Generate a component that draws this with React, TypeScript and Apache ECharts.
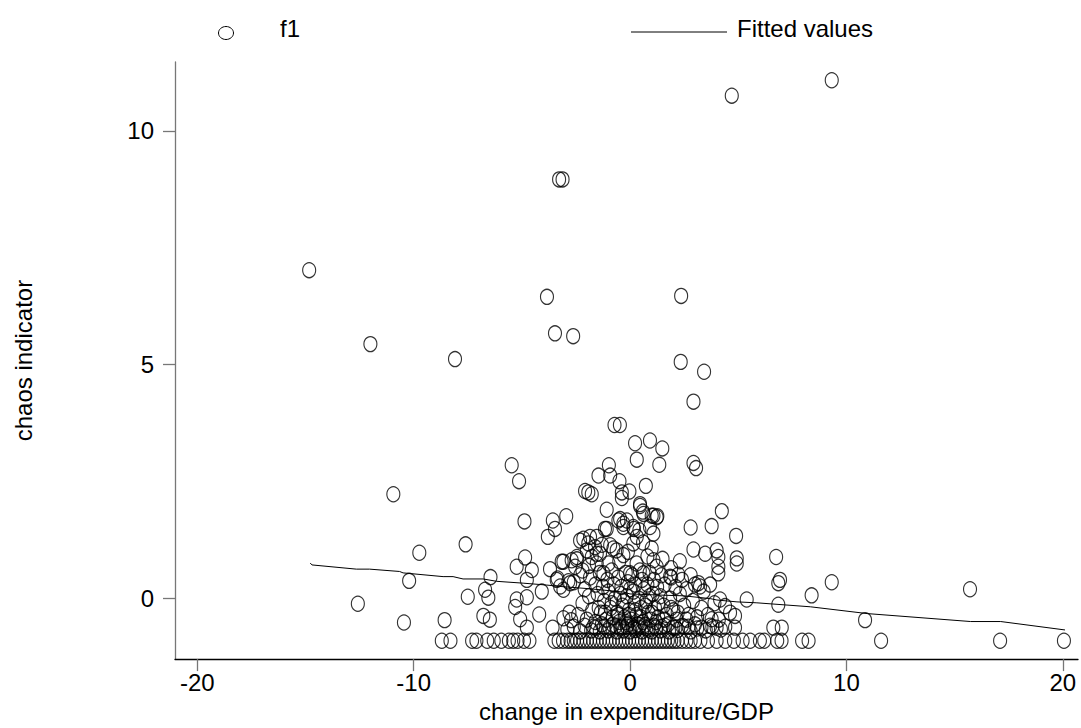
import React, { useEffect, useRef } from "react";
import * as echarts from "echarts";

const xTicks = [-20, -10, 0, 10, 20];
const yTicks = [0, 5, 10];

const scatterNonFloor: number[][] = [
  [9.32, 11.08], [4.7, 10.75], [-3.28, 8.96], [-3.12, 8.96], [-14.83, 7.02], [-3.84, 6.45], [2.36, 6.47],
  [-3.47, 5.67], [-2.63, 5.61], [-12.0, 5.44], [-8.09, 5.12], [2.34, 5.06], [3.42, 4.85], [2.93, 4.21],
  [-0.72, 3.71], [-0.47, 3.71], [0.23, 3.32], [0.92, 3.38], [1.49, 3.21], [0.31, 2.97], [1.35, 2.86],
  [2.93, 2.9], [3.05, 2.79], [-5.47, 2.85], [-5.13, 2.51], [-10.94, 2.23],
  [-0.98, 2.85], [-1.46, 2.63], [-0.92, 2.63], [-0.49, 2.51], [0.73, 2.41], [-2.08, 2.3], [-1.93, 2.27],
  [-1.77, 2.23], [-0.38, 2.27], [-0.03, 2.29], [-0.38, 2.15],
  [-1.08, 1.9], [0.46, 1.98], [0.59, 1.86], [1.26, 1.76], [-0.54, 1.67], [-0.31, 1.6], [0.18, 1.49],
  [0.43, 1.46], [-4.88, 1.65], [-3.57, 1.67], [-3.47, 1.49], [-3.8, 1.32], [-2.95, 1.76], [-7.6, 1.16],
  [-9.74, 0.98], [-2.16, 1.28], [-1.93, 1.18], [-1.54, 1.32], [-1.08, 1.49], [-0.92, 1.14], [-0.77, 1.07],
  [-0.62, 1.03], [-0.31, 0.93], [0.15, 1.18], [0.31, 1.32], [1.08, 1.39], [1.0, 1.07], [1.0, 1.77], [1.23, 1.74],
  [2.8, 1.52], [3.77, 1.55], [4.24, 1.87], [4.9, 1.34], [2.93, 1.05], [3.47, 0.96], [4.0, 1.03], [4.08, 0.89],
  [4.08, 0.68], [4.08, 0.54], [4.93, 0.86], [4.93, 0.75], [6.75, 0.89], [6.93, 0.4], [6.85, 0.33], [8.39, 0.07],
  [9.32, 0.35], [15.71, 0.2], [10.86, -0.46], [5.39, -0.02], [6.85, -0.13],
  [4.16, -0.02], [4.39, -0.16], [4.62, -0.3], [4.85, -0.37], [4.85, -0.62], [6.62, -0.62], [7.01, -0.62], [3.77, -0.44],
  [-4.85, 0.88], [-5.24, 0.68], [-4.54, 0.61], [-4.77, 0.4], [-6.45, 0.46], [-3.7, 0.63], [-3.35, 0.43],
  [-3.16, 0.79], [-2.46, 0.84], [-2.7, 0.82], [-1.77, 0.89], [-1.54, 0.96], [-1.23, 0.54], [0.0, 0.54],
  [0.62, 0.54], [1.08, 0.82], [1.23, 0.68], [1.85, 0.47], [2.23, 0.51], [3.16, 0.33], [3.23, 0.26],
  [-6.7, 0.19], [-6.55, 0.02], [-7.5, 0.04], [-6.78, -0.37], [-6.48, -0.45], [-8.57, -0.46], [-10.45, -0.51],
  [-12.58, -0.11], [-10.21, 0.38],
  [-5.24, -0.02], [-5.31, -0.18], [-4.77, 0.03], [-5.08, -0.44], [-4.77, -0.62], [-4.08, 0.15], [-4.2, -0.34],
  [-3.58, -0.62], [-3.23, 0.26], [-2.85, 0.37], [-3.08, -0.42], [-2.72, -0.46], [-2.8, -0.3],
  [-1.85, 1.32], [-2.31, 1.24], [-2.0, 1.03], [-1.62, 1.1], [-1.39, 0.96], [-1.54, 0.75], [-1.16, 1.49],
  [-0.46, 1.7], [-0.15, 1.67], [-0.31, 1.53], [0.15, 1.53], [0.46, 2.02], [0.62, 1.81], [1.08, 1.77], [0.92, 1.53],
  [-3.08, 0.79], [-2.54, 0.68], [-2.46, 0.89], [-3.39, 0.4], [-3.08, 0.19], [-2.77, 0.33],
  [-2.2, 0.6], [-1.9, 0.7], [-1.0, 0.75], [-0.5, 0.8], [0.3, 0.75], [0.8, 0.9], [1.5, 0.85], [1.9, 0.65],
  [2.3, 0.8], [-0.1, 1.0], [0.6, 1.2], [-1.3, 1.15],
  [-2.9, -0.66], [-2.6, -0.6], [-2.3, -0.7], [-2.1, -0.58], [-1.8, -0.68], [-1.6, -0.62], [-1.4, -0.7],
  [-1.2, -0.6], [-1.0, -0.68], [-0.8, -0.56], [-0.6, -0.7], [-0.45, -0.62], [-0.3, -0.68], [-0.15, -0.6],
  [0.0, -0.7], [0.1, -0.58], [0.25, -0.67], [0.4, -0.62], [0.55, -0.7], [0.7, -0.56], [0.85, -0.66],
  [1.0, -0.7], [1.2, -0.62], [1.4, -0.68], [1.6, -0.58], [1.8, -0.7], [2.0, -0.62], [2.2, -0.67],
  [2.5, -0.6], [2.8, -0.7], [3.1, -0.64], [3.5, -0.68], [3.8, -0.6], [4.2, -0.66],
  [-2.4, -0.35], [-2.2, -0.1], [-2.0, -0.45], [-1.9, 0.05], [-1.75, -0.25], [-1.6, -0.5], [-1.5, 0.1],
  [-1.35, -0.3], [-1.2, -0.05], [-1.1, -0.45], [-1.0, 0.15], [-0.9, -0.2], [-0.8, -0.4], [-0.7, 0.0],
  [-0.6, -0.3], [-0.5, -0.5], [-0.45, 0.1], [-0.35, -0.15], [-0.25, -0.4], [-0.15, 0.05], [-0.05, -0.25],
  [0.05, -0.45], [0.15, 0.15], [0.2, -0.1], [0.3, -0.35], [0.4, 0.0], [0.5, -0.2], [0.6, -0.5], [0.65, 0.2],
  [0.75, -0.05], [0.85, -0.3], [0.95, -0.45], [1.05, 0.1], [1.15, -0.2], [1.3, -0.4], [1.4, 0.05],
  [1.55, -0.15], [1.7, -0.35], [1.85, 0.0], [2.0, -0.25], [2.15, -0.45], [2.3, 0.1], [2.5, -0.15],
  [2.7, -0.35], [2.9, -0.05], [3.1, -0.4], [3.3, -0.2], [3.6, -0.35], [3.9, -0.1], [4.1, -0.45],
  [-2.6, 0.35], [-2.3, 0.5], [-2.1, 0.2], [-1.85, 0.45], [-1.6, 0.3], [-1.4, 0.55], [-1.25, 0.25],
  [-1.05, 0.4], [-0.85, 0.6], [-0.75, 0.3], [-0.55, 0.45], [-0.4, 0.25], [-0.2, 0.55], [-0.1, 0.35],
  [0.1, 0.5], [0.25, 0.3], [0.45, 0.6], [0.55, 0.4], [0.8, 0.3], [0.9, 0.55], [1.1, 0.4], [1.25, 0.25],
  [1.45, 0.5], [1.6, 0.3], [1.9, 0.45], [2.1, 0.25], [2.4, 0.4], [2.6, 0.2], [2.8, 0.5], [3.0, 0.3],
  [3.4, 0.15], [3.7, 0.3],
  [-1.7, -0.6], [-1.3, -0.55], [-0.95, -0.62], [-0.65, -0.58], [-0.35, -0.6], [-0.1, -0.55], [0.2, -0.62],
  [0.45, -0.57], [0.75, -0.63], [1.1, -0.58], [1.45, -0.6], [1.75, -0.55], [2.1, -0.62], [2.4, -0.58],
  [2.7, -0.6], [3.0, -0.55], [3.3, -0.62], [3.7, -0.58], [4.0, -0.62], [4.4, -0.6],
  [-1.45, -0.2], [-1.15, -0.3], [-0.85, -0.1], [-0.55, -0.35], [-0.3, -0.05], [-0.05, -0.35], [0.25, -0.25],
  [0.5, -0.4], [0.7, -0.15], [1.0, -0.3], [1.3, -0.1], [1.6, -0.45], [1.9, -0.2], [2.2, -0.3], [2.6, -0.45],
  [0.0, 0.2], [-0.2, -0.5], [0.35, -0.55], [0.9, 0.05], [1.2, -0.5],
];

const floorY = -0.9;
const floorX: number[] = [
  -8.7, -8.3, -7.3, -7.1, -6.6, -6.3, -5.95, -5.6, -5.4, -5.2, -4.9, -4.65,
  -3.5, -3.3, -3.1, -2.9, -2.75, -2.6, -2.45, -2.3, -2.15, -2.0, -1.85, -1.7, -1.55, -1.4, -1.25, -1.1,
  -0.95, -0.8, -0.65, -0.5, -0.35, -0.2, -0.05, 0.1, 0.25, 0.4, 0.55, 0.7, 0.85, 1.0, 1.15, 1.3, 1.45,
  1.6, 1.75, 1.9, 2.05, 2.2, 2.4, 2.6, 2.8, 3.0, 3.25, 3.6, 4.0, 4.4, 4.8, 5.2, 5.55, 6.0, 6.2,
  6.8, 7.0, 7.95, 8.25, 11.6, 17.1, 20.05,
];

const fittedX = [-14.78, -14.7, -12.65, -12.04, -10.65, -10.49, -8.64, -8.18, -7.72, -6.79, -6.17, -4.94,
  -3.86, -3.24, -1.85, -0.31, 0.0, 1.7, 2.47, 3.7, 4.01, 4.94, 5.86, 8.33, 10.96, 15.74, 17.13, 20.1];
const fittedY = [0.76, 0.72, 0.63, 0.63, 0.58, 0.55, 0.47, 0.47, 0.42, 0.42, 0.37, 0.33,
  0.29, 0.26, 0.21, 0.14, 0.1, 0.07, 0.06, 0.0, -0.03, -0.07, -0.09, -0.175, -0.32, -0.49, -0.49, -0.67];

const FONT = "'Liberation Sans', Arial, sans-serif";

export default function App() {
  const ref = useRef<HTMLDivElement>(null);
  useEffect(() => {
    if (!ref.current) return;
    const chart = echarts.init(ref.current, null, { renderer: "svg" });
    const scatterData = [
      ...scatterNonFloor,
      ...floorX.map((x) => [x, floorY]),
    ];
    const lineData = fittedX.map((x, i) => [x, fittedY[i]]);
    chart.setOption({
      animation: false,
      backgroundColor: "#fff",
      grid: { left: 175, top: 62, right: 3, bottom: 61, containLabel: false },
      xAxis: {
        type: "value",
        min: -21.03,
        max: 20.7,
        name: "change in expenditure/GDP",
        nameLocation: "middle",
        nameGap: 36,
        nameTextStyle: { fontFamily: FONT, fontSize: 24, color: "#000" },
        axisLine: { show: true, onZero: false, lineStyle: { color: "#000", width: 1.3 } },
        axisTick: { show: true, length: 12, customValues: xTicks, lineStyle: { color: "#777", width: 1.3 } },
        axisLabel: { customValues: xTicks, margin: 11, fontFamily: FONT, fontSize: 24, color: "#000" },
        splitLine: { show: false },
      },
      yAxis: {
        type: "value",
        min: -1.293,
        max: 11.47,
        name: "chaos indicator",
        nameLocation: "middle",
        nameGap: 140,
        nameTextStyle: { fontFamily: FONT, fontSize: 24, color: "#000" },
        axisLine: { show: true, onZero: false, lineStyle: { color: "#777", width: 1.3 } },
        axisTick: { show: true, length: 12, customValues: yTicks, lineStyle: { color: "#777", width: 1.3 } },
        axisLabel: { customValues: yTicks, margin: 21, fontFamily: FONT, fontSize: 24, color: "#000" },
        splitLine: { show: false },
      },
      series: [
        {
          name: "f1",
          type: "scatter",
          data: scatterData,
          symbol: "circle",
          symbolSize: [13, 15],
          itemStyle: { color: "rgba(0,0,0,0)", borderColor: "#000", borderWidth: 1.2 },
          emphasis: { disabled: true },
        },
        {
          name: "Fitted values",
          type: "line",
          data: lineData,
          showSymbol: false,
          symbol: "none",
          lineStyle: { color: "#000", width: 1 },
          emphasis: { disabled: true },
        },
      ],
      graphic: [
        {
          type: "ellipse",
          shape: { cx: 226, cy: 33, rx: 7.5, ry: 6.5 },
          style: { fill: "none", stroke: "#000", lineWidth: 1 },
        },
        {
          type: "text",
          x: 280,
          y: 28,
          style: { text: "f1", font: `24px ${FONT}`, fill: "#000", verticalAlign: "middle", align: "left" },
        },
        {
          type: "line",
          shape: { x1: 631, y1: 32, x2: 727, y2: 32 },
          style: { stroke: "#000", lineWidth: 1 },
        },
        {
          type: "text",
          x: 737,
          y: 28,
          style: { text: "Fitted values", font: `24px ${FONT}`, fill: "#000", verticalAlign: "middle", align: "left" },
        },
      ],
    });
    return () => chart.dispose();
  }, []);
  return <div ref={ref} style={{ width: 1081, height: 728, position: "absolute", left: 0, top: 0 }} />;
}
